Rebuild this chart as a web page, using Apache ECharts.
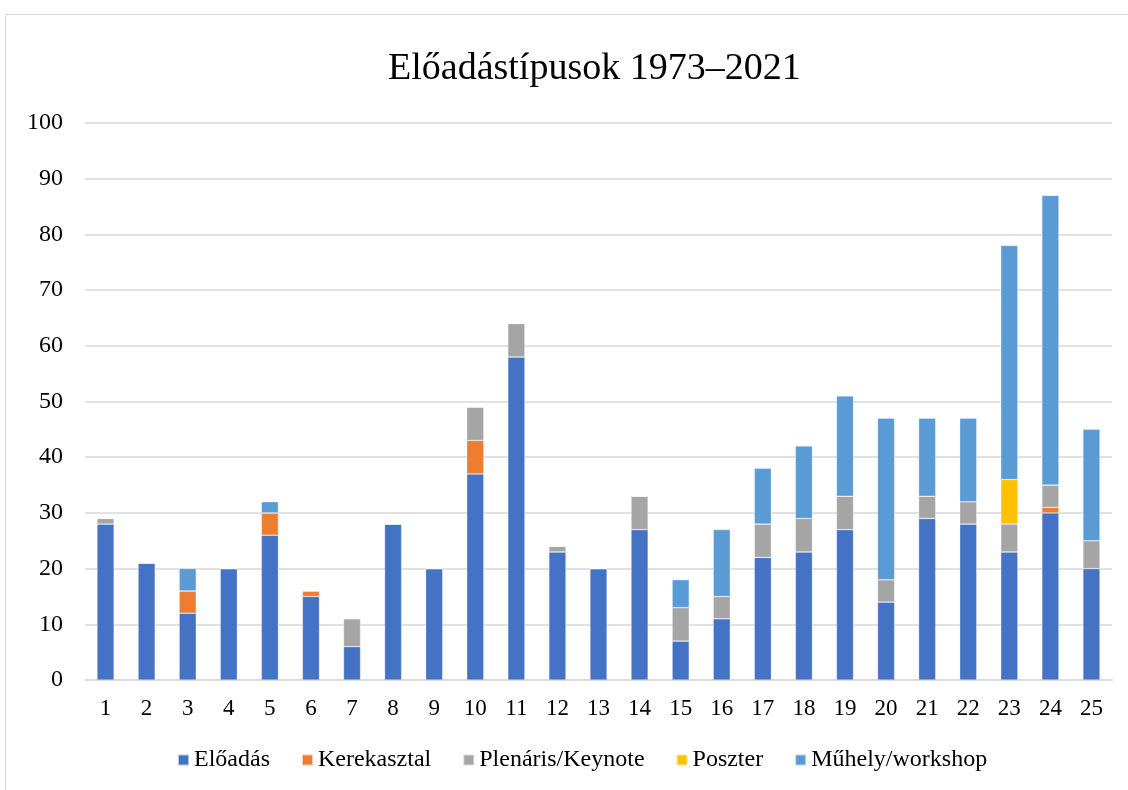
<!DOCTYPE html>
<html><head><meta charset="utf-8">
<script src="https://cdn.jsdelivr.net/npm/echarts@6/dist/echarts.min.js"></script>
<style>html,body{margin:0;padding:0;background:#fff}#c{width:1128px;height:790px}</style>
</head><body><div id="c"></div>
<script>
const categories = ['1','2','3','4','5','6','7','8','9','10','11','12','13','14','15','16','17','18','19','20','21','22','23','24','25'];
const eloadas =     [28,21,12,20,26,15,6,28,20,37,58,23,20,27,7,11,22,23,27,14,29,28,23,30,20];
const kerekasztal = [0,0,4,0,4,1,0,0,0,6,0,0,0,0,0,0,0,0,0,0,0,0,0,1,0];
const plenaris =    [1,0,0,0,0,0,5,0,0,6,6,1,0,6,6,4,6,6,6,4,4,4,5,4,5];
const poszter =     [0,0,0,0,0,0,0,0,0,0,0,0,0,0,0,0,0,0,0,0,0,0,8,0,0];
const muhely =      [0,0,4,0,2,0,0,0,0,0,0,0,0,0,5,12,10,13,18,29,14,15,42,52,20];
const seriesNames = ['Előadás','Kerekasztal','Plenáris/Keynote','Poszter','Műhely/workshop'];
const colors = ['#4472C4','#ED7D31','#A5A5A5','#FFC000','#5B9BD5'];
const dataSets = [eloadas,kerekasztal,plenaris,poszter,muhely];
const font = 'Liberation Serif';
const chart = echarts.init(document.getElementById('c'));
chart.setOption({
  animation:false,
  color: colors,
  graphic:[{type:'rect',shape:{x:5.5,y:14.5,width:1130,height:800},style:{fill:'none',stroke:'#d9d9d9',lineWidth:1}}],
  title:{text:'Előadástípusok 1973‒2021',left:383,top:45,textStyle:{fontFamily:font,fontSize:38,fontWeight:'normal',color:'#000'}},
  legend:{bottom:13,left:172,itemWidth:11,itemHeight:11,itemGap:31,icon:'rect',
    textStyle:{fontFamily:font,fontSize:24,color:'#000',padding:[0,0,0,0]},data:seriesNames},
  grid:{left:85,right:16,top:123,bottom:110},
  xAxis:{type:'category',data:categories,axisTick:{show:false},
    axisLine:{lineStyle:{color:'#d9d9d9',width:1.5}},
    axisLabel:{fontFamily:font,fontSize:23,color:'#000',margin:17}},
  yAxis:{type:'value',min:0,max:100,interval:10,
    axisLabel:{fontFamily:font,fontSize:24,color:'#000',margin:22},
    splitLine:{lineStyle:{color:'#d9d9d9',width:1.5}}},
  series: dataSets.map((d,i)=>({name:seriesNames[i],type:'bar',stack:'total',barWidth:17,
    data:d,itemStyle:{color:colors[i],borderColor:'rgba(255,255,255,0.6)',borderWidth:0.5}}))
});
</script></body></html>
